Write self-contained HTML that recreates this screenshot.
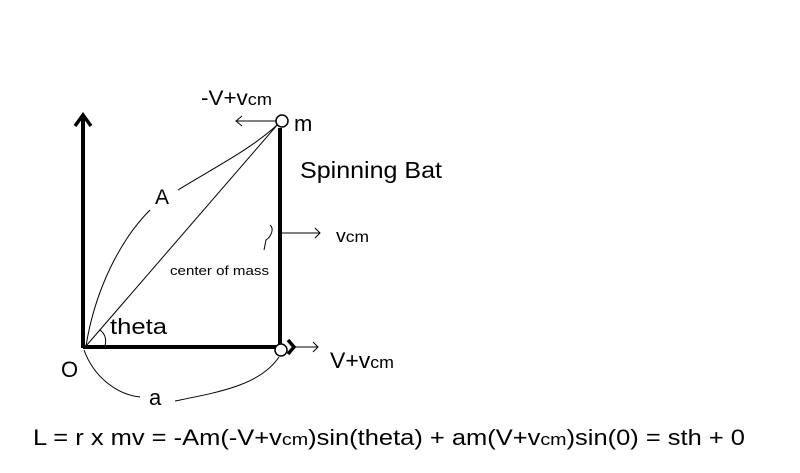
<!DOCTYPE html>
<html><head><style>
body{margin:0;background:#fff;}
svg{display:block}
text{font-family:"Liberation Sans",sans-serif;fill:#000}
</style></head><body>
<svg width="800" height="473" viewBox="0 0 800 473">
<g fill="none" stroke="#000">
<line x1="83" y1="348" x2="83" y2="116" stroke-width="4"/>
<polyline points="75,126 83,115 91,126" stroke-width="3.5"/>
<line x1="83" y1="347" x2="285" y2="347" stroke-width="4"/>
<polyline points="288,340 294,347 288,354" stroke-width="3.5"/>
<line x1="280" y1="128" x2="280" y2="347" stroke-width="4"/>
<line x1="86" y1="346" x2="278" y2="124" stroke-width="1"/>
<path d="M86,346 C95,290 120,240 150,210" stroke-width="1"/>
<path d="M178,190 C210,170 250,150 277,125" stroke-width="1"/>
<path d="M84,350 C95,380 120,395 140,397" stroke-width="1"/>
<path d="M175,401 C220,392 260,385 279,357" stroke-width="1"/>
<path d="M105,346 C107,338 104,333 100,330" stroke-width="1"/>
<line x1="236" y1="121" x2="276" y2="121" stroke-width="1"/>
<polyline points="242,116 236,121 242,126" stroke-width="1"/>
<line x1="281" y1="233" x2="320" y2="233" stroke-width="1"/>
<polyline points="315,228 320,233 315,238" stroke-width="1"/>
<line x1="296" y1="347" x2="318" y2="347" stroke-width="1"/>
<polyline points="313,342 318,347 313,352" stroke-width="1"/>
<path d="M270,225 C274,228 272,236 266,240 L264,250" stroke-width="1"/>
<circle cx="282" cy="121" r="6" fill="#fff" stroke-width="1.5"/>
<circle cx="281" cy="350" r="6" fill="#fff" stroke-width="1.5"/>
</g>
<text x="201" y="105" font-size="21" textLength="71" lengthAdjust="spacingAndGlyphs">-V+v<tspan font-size="17">cm</tspan></text>
<text x="294" y="131" font-size="22">m</text>
<text x="300" y="178" font-size="23" textLength="142" lengthAdjust="spacingAndGlyphs">Spinning Bat</text>
<text x="336" y="242" font-size="18" textLength="33" lengthAdjust="spacingAndGlyphs">v<tspan font-size="16">cm</tspan></text>
<text x="170" y="275" font-size="13" textLength="99" lengthAdjust="spacingAndGlyphs">center of mass</text>
<text x="110" y="334" font-size="22" textLength="57" lengthAdjust="spacingAndGlyphs">theta</text>
<text x="61" y="377" font-size="22">O</text>
<text x="330" y="368" font-size="22" textLength="64" lengthAdjust="spacingAndGlyphs">V+v<tspan font-size="17">cm</tspan></text>
<text x="149" y="405" font-size="22">a</text>
<text x="155" y="204" font-size="21">A</text>
<text x="33" y="445" font-size="22" textLength="712" lengthAdjust="spacingAndGlyphs">L = r x mv = -Am(-V+v<tspan font-size="17">cm</tspan>)sin(theta) + am(V+v<tspan font-size="17">cm</tspan>)sin(0) = sth + 0</text>
</svg>
</body></html>
